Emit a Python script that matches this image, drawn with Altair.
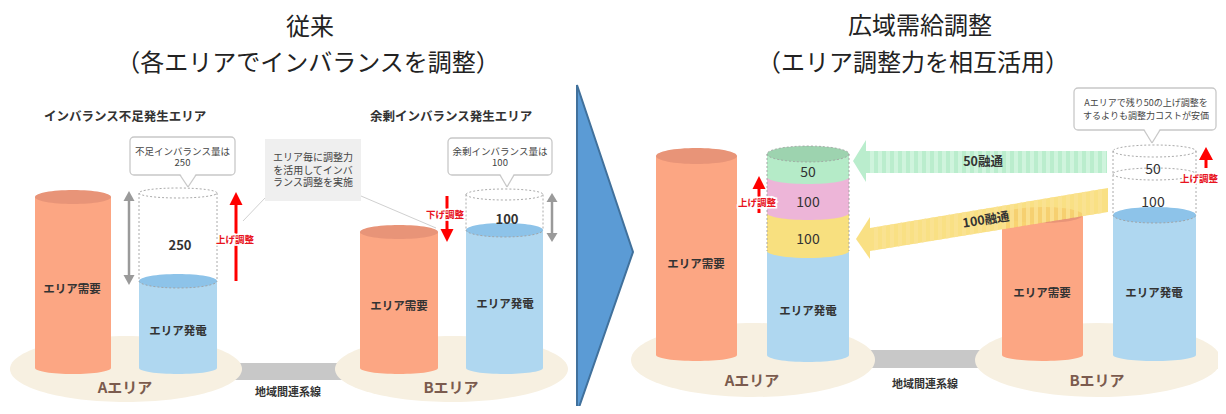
import altair as alt
import numpy as np
import pandas as pd

# ---------------- texts and values ----------------
panel_titles = ["従来", "広域需給調整"]
panel_subtitles = ["（各エリアでインバランスを調整）", "（エリア調整力を相互活用）"]
area_names = ["Aエリア", "Bエリア"]
cyl_labels = ["エリア需要", "エリア発電"]
link_label = "地域間連系線"
left_headers = ["インバランス不足発生エリア", "余剰インバランス発生エリア"]
shortage = 250
surplus = 100
stack_values = [100, 100, 50]      # A-area stack, bottom to top
transfer_values = [50, 100]         # green arrow, yellow arrow
b_slots = [50, 100]                 # B-area dashed slots, top to bottom
up_label, down_label = "上げ調整", "下げ調整"
callout_texts = [f"不足インバランス量は\n{shortage}",
                 f"余剰インバランス量は\n{surplus}",
                 f"Aエリアで残り{transfer_values[0]}の上げ調整を\nするよりも調整力コストが安価"]
note_text = "エリア毎に調整力\nを活用してインバ\nランス調整を実施"

# ---------------- style ----------------
FONT = "Noto Sans CJK JP"
ORANGE, ORANGE_TOP = "#FCA683", "#E89478"
BLUE, BLUE_TOP = "#AFD7F0", "#8DC3E9"
BEIGE = "#F7F0E1"
GREEN, GREEN_TOP, PINK, YELLOW = "#B5EBC8", "#9DD3AF", "#EDB5D8", "#F8E07F"
DARK = "#333333"
RED = "#FF0000"
GRAY = "#9A9A9A"
BROWN = "#7B5B4E"

W, H = 1210, 398
XS = alt.Scale(domain=[8, 8 + W], nice=False, zero=False)
YS = alt.Scale(domain=[8, 8 + H], nice=False, zero=False, reverse=True)


def X(f="x"):
    return alt.X(f"{f}:Q", scale=XS, axis=None)


def Y(f="y"):
    return alt.Y(f"{f}:Q", scale=YS, axis=None)


K = 0.5523


def ell_path(r, half=False):
    lower = (f"M-1,0C-1,{K*r:.4f},{-K:.4f},{r:.4f},0,{r:.4f}"
             f"C{K:.4f},{r:.4f},1,{K*r:.4f},1,0")
    if half:
        return lower
    upper = (f"C1,{-K*r:.4f},{K:.4f},{-r:.4f},0,{-r:.4f}"
             f"C{-K:.4f},{-r:.4f},-1,{-K*r:.4f},-1,0Z")
    return lower + upper


def ell_layer(rows, filled=True, half=False, **mk):
    df = pd.DataFrame(rows, columns=["x", "y", "rx", "ry", "fill"])
    df["shape"] = [ell_path(ry / rx, half) for rx, ry in zip(df.rx, df.ry)]
    df["size"] = (2 * df.rx) ** 2
    enc = dict(x=X(), y=Y(),
               shape=alt.Shape("shape:N", scale=None, legend=None),
               size=alt.Size("size:Q", scale=None, legend=None))
    if filled:
        enc["fill"] = alt.Fill("fill:N", scale=None, legend=None)
        return alt.Chart(df).mark_point(filled=True, opacity=1, strokeWidth=0).encode(**enc)
    return alt.Chart(df).mark_point(filled=False, opacity=1, **mk).encode(**enc)


def rect_layer(rows, **mk):
    df = pd.DataFrame(rows, columns=["x", "x2", "y", "y2", "fill"])
    return alt.Chart(df).mark_rect(**mk).encode(
        x=X(), x2="x2:Q", y=Y(), y2="y2:Q",
        fill=alt.Fill("fill:N", scale=None, legend=None))


def area_layer(rows, **mk):
    df = pd.DataFrame(rows, columns=["gid", "x", "y", "y2", "fill"])
    return alt.Chart(df).mark_area(orient="vertical", **mk).encode(
        x=X(), y=Y(), y2="y2:Q", detail="gid:N",
        fill=alt.Fill("fill:N", scale=None, legend=None))


def rule_layer(rows, **mk):
    df = pd.DataFrame(rows, columns=["x", "y", "x2", "y2"])
    return alt.Chart(df).mark_rule(**mk).encode(x=X(), y=Y(), x2="x2:Q", y2="y2:Q")


def text_layer(rows, **mk):
    df = pd.DataFrame(rows, columns=["x", "y", "text"])
    base = dict(font=FONT, align="center", baseline="middle")
    base.update(mk)
    return alt.Chart(df).mark_text(**base).encode(x=X(), y=Y(), text="text:N")


def tri_up(gid, cx, tip, base, hw, fill):
    return [(gid, cx - hw, base, base, fill), (gid, cx, tip, base, fill), (gid, cx + hw, base, base, fill)]


layers = []

# ---- ground ellipses and link bars ----
layers.append(rect_layer([(225, 350, 363, 380, "#C8C8C8"), (865, 985, 350, 368, "#C8C8C8")]))
layers.append(ell_layer([(126, 369, 116, 33, BEIGE), (451.5, 369, 116.5, 33, BEIGE),
                         (753, 360, 122, 37, BEIGE), (1098, 360, 123, 37, BEIGE)]))

# ---- simple cylinders (cx, rx, top, bottom, body, topc, ry_top) ----
cyls = [(73, 38, 197, 368, ORANGE, ORANGE_TOP, 7),
        (178, 39, 281, 368, BLUE, BLUE_TOP, 7),
        (399, 39, 232, 368, ORANGE, ORANGE_TOP, 7),
        (504.5, 38.5, 230, 368, BLUE, BLUE_TOP, 7),
        (696.5, 40.5, 156, 355, ORANGE, ORANGE_TOP, 8),
        (1042.5, 40.5, 215, 355, ORANGE, ORANGE_TOP, 8),
        (1154.5, 41.5, 215, 355, BLUE, BLUE_TOP, 8)]
layers.append(ell_layer([(c[0], c[3], c[1], 6, c[4]) for c in cyls]))
layers.append(rect_layer([(c[0] - c[1], c[0] + c[1], c[2], c[3], c[4]) for c in cyls]))
layers.append(ell_layer([(c[0], c[2], c[1], c[6], c[5]) for c in cyls]))

# ---- stacked cylinder in right A area ----
SCX, SRX = 808, 41
sections = [(251, 355, BLUE), (213, 251, YELLOW), (177, 213, PINK), (154, 177, GREEN)]
for top, bot, col in sections:
    layers.append(ell_layer([(SCX, bot, SRX, 7, col)]))
    layers.append(rect_layer([(SCX - SRX, SCX + SRX, top, bot, col)]))
layers.append(ell_layer([(SCX, 154, SRX, 8, GREEN_TOP)]))
layers.append(ell_layer([(SCX, 154, SRX, 8, "")], filled=False, color="#A0A0A0",
                        strokeWidth=0.8, strokeDash=[2, 2]))

# ---- dashed (empty) cylinder parts ----
dash = dict(color="#A0A0A0", strokeWidth=0.9, strokeDash=[2, 2])
layers.append(ell_layer([(178, 193, 39, 5, ""), (504.5, 194.5, 38.5, 5.5, ""),
                         (1154.5, 151, 41.5, 6, ""), (1154.5, 174, 41.5, 6, "")],
                        filled=False, **dash))
layers.append(ell_layer([(178, 281, 39, 7, ""), (504.5, 230, 38.5, 7, ""),
                         (1154.5, 215, 41.5, 8, "")], filled=False, half=True, **dash))
layers.append(rule_layer([(139, 193, 139, 281), (217, 193, 217, 281),
                          (466, 194.5, 466, 230), (543, 194.5, 543, 230),
                          (1113, 151, 1113, 215), (1196, 151, 1196, 215),
                          (767, 154, 767, 251), (849, 154, 849, 251)], **dash))

# ---- transfer arrows (green straight, yellow slanted) ----
green_stripes = [(x0, x0 + 4, 151, 173, "#CFF4DD") for x0 in np.arange(870, 1104, 8)]
layers.append(rect_layer([(866, 1107, 151, 173, "#BAEDCD")]))
layers.append(rect_layer(green_stripes))
layers.append(area_layer([("g", 853, 161, 161, "#BAEDCD"), ("g", 866, 140, 182, "#BAEDCD")]))

yx0, yx1, yt0, yt1, yb0, yb1 = 870, 1108, 228, 188, 251, 212


def y_edge(x, a, b):
    return a + (b - a) * (x - yx0) / (yx1 - yx0)


yellow_rows = [("body", yx0, yt0, yb0, "#F8DA6E"), ("body", yx1, yt1, yb1, "#F8DA6E"),
               ("head", 856, 239, 239, "#F8DA6E"), ("head", 870, 217, 259, "#F8DA6E")]
for i, x0 in enumerate(np.arange(874, 1104, 8)):
    for xx in (x0, x0 + 4):
        yellow_rows.append((f"s{i}", xx, y_edge(xx, yt0, yt1), y_edge(xx, yb0, yb1), "#FAE293"))
layers.append(area_layer(yellow_rows, opacity=0.85))

# ---- gray double arrows ----
layers.append(rule_layer([(129, 198, 129, 278), (552, 199, 552, 236)], color=GRAY, strokeWidth=2.5))
layers.append(area_layer(tri_up("a1", 129, 191, 201, 5.5, GRAY) + tri_up("a2", 129, 285, 275, 5.5, GRAY)
                         + tri_up("b1", 552, 193, 202, 5.5, GRAY) + tri_up("b2", 552, 242, 233, 5.5, GRAY)))

# ---- red adjustment arrows ----
layers.append(rule_layer([(236, 200, 236, 281), (447, 196, 447, 232),
                          (759, 186, 759, 213), (1206, 156, 1206, 168)], color=RED, strokeWidth=3))
layers.append(area_layer(tri_up("r1", 236, 192, 205, 6.5, RED) + tri_up("r2", 447, 242, 229, 6.5, RED)
                         + tri_up("r3", 759, 176, 189, 6.5, RED) + tri_up("r4", 1206, 147, 160, 7, RED)))

# ---- note box with leader lines ----
layers.append(rule_layer([(265, 198, 243, 221), (361, 196, 436, 228)], color="#D0D0D0", strokeWidth=1))
layers.append(rect_layer([(265, 361, 139, 201, "#EFEFEF")]))
layers.append(text_layer([(313, 158, note_text)], fontSize=10, lineBreak="\n", lineHeight=12.5, color="#444444"))

# ---- callout boxes ----
boxes = [(130, 235, 137, 175, 188, 187, 8), (448, 552, 138, 175, 507, 187, 7),
         (1074, 1216, 88, 130, 1152, 143, 8)]
layers.append(rect_layer([(b[0], b[1], b[2], b[3], "white") for b in boxes],
                         cornerRadius=4, stroke="#C8C8C8", strokeWidth=1.3))
ptr = []
for i, b in enumerate(boxes):
    ptr += [(f"p{i}", b[4] - b[6], b[3] - 1.5, b[3] - 1.5, "white"), (f"p{i}", b[4], b[3] - 1.5, b[5], "white"),
            (f"p{i}", b[4] + b[6], b[3] - 1.5, b[3] - 1.5, "white")]
layers.append(area_layer(ptr))
layers.append(rule_layer([(b[4] - b[6], b[3], b[4], b[5]) for b in boxes] +
                         [(b[4] + b[6], b[3], b[4], b[5]) for b in boxes], color="#C8C8C8", strokeWidth=1.3))
layers.append(text_layer([(182.5, 152, callout_texts[0]), (500, 152, callout_texts[1])],
                         fontSize=9.5, lineBreak="\n", lineHeight=11, color="#444444"))
layers.append(text_layer([(1146, 103, callout_texts[2])], fontSize=9, lineBreak="\n",
                         lineHeight=13, color="#444444"))

# ---- center transition arrow ----
layers.append(area_layer([("c", 577, 85, 413, "#5B9BD5"), ("c", 633, 252, 252, "#5B9BD5")],
                         stroke="#41719C", strokeWidth=2))

# ---- red labels with white halo ----
red_rows = [(235, 240, up_label), (445, 215, down_label), (757, 203, up_label), (1199, 179, up_label)]
layers.append(text_layer(red_rows, fontSize=9.5, fontWeight="bold", color="white", stroke="white", strokeWidth=3))
layers.append(text_layer(red_rows, fontSize=9.5, fontWeight="bold", color="#E8141E"))

# ---- labels ----
layers.append(text_layer([(310, 28, panel_titles[0]), (308, 64, panel_subtitles[0]),
                          (920, 27, panel_titles[1]), (913, 64, panel_subtitles[1])],
                         fontSize=24, color="#222222"))
layers.append(text_layer([(125, 117, left_headers[0]), (451, 117, left_headers[1])],
                         fontSize=12.5, fontWeight="bold", color=DARK))
layers.append(text_layer([(72, 290, cyl_labels[0]), (178, 332, cyl_labels[1]),
                          (399, 307, cyl_labels[0]), (505, 305, cyl_labels[1]),
                          (696, 265, cyl_labels[0]), (808, 312, cyl_labels[1]),
                          (1042, 294, cyl_labels[0]), (1154, 294, cyl_labels[1])],
                         fontSize=11.5, fontWeight="bold", color=DARK))
layers.append(text_layer([(125, 388, area_names[0]), (451, 388, area_names[1]),
                          (752, 381, area_names[0]), (1097, 381, area_names[1])],
                         fontSize=15, fontWeight="bold", color=BROWN))
layers.append(text_layer([(288, 393, link_label), (925, 385, link_label)],
                         fontSize=11, fontWeight="bold", color=DARK))
layers.append(text_layer([(180, 246, str(shortage)), (507, 220, str(surplus))],
                         fontSize=13, fontWeight="bold", color=DARK))
layers.append(text_layer([(808, 240, str(stack_values[0])), (808, 203, str(stack_values[1])),
                          (808, 173, str(stack_values[2])),
                          (1153, 170, str(b_slots[0])), (1153, 203, str(b_slots[1]))],
                         fontSize=14, color=DARK))
layers.append(text_layer([(983, 162, f"{transfer_values[0]}融通")], fontSize=12.5, fontWeight="bold", color=DARK))
layers.append(text_layer([(986, 220, f"{transfer_values[1]}融通")], fontSize=12.5, fontWeight="bold",
                         color=DARK, angle=351))

chart = alt.layer(*layers).properties(
    width=W, height=H, padding=0, autosize="none", background="white"
).configure_view(stroke=None)

chart.save("out.html", embed_options={"renderer": "svg", "actions": False})
